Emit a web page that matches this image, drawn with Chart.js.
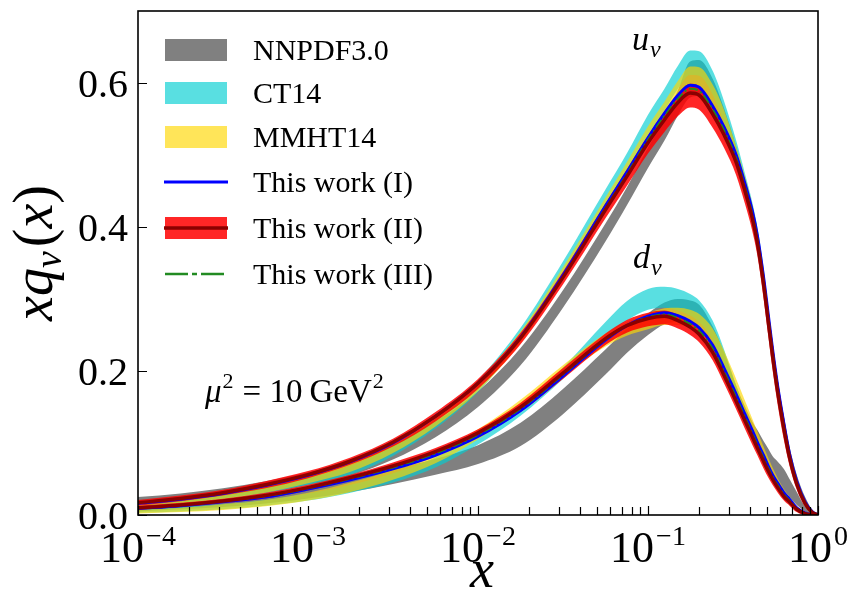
<!DOCTYPE html>
<html><head><meta charset="utf-8">
<script src="https://cdn.jsdelivr.net/npm/chart.js@4/dist/chart.umd.min.js"></script>
<style>html,body{margin:0;padding:0;background:#fff;overflow:hidden}#wrap{width:848px;height:611px}</style>
</head><body><div id="wrap"><canvas id="c" width="848" height="611"></canvas></div>
<script>
// ---- data (x grid shared by all curves) ----
const X = [1e-4, 1.78e-4, 3.16e-4, 5.62e-4, 1e-3, 1.78e-3, 3.16e-3, 5.62e-3, 1e-2, 1.78e-2, 3.16e-2, 5.62e-2, 0.075, 0.1, 0.125, 0.15, 0.177, 0.2, 0.24, 0.28, 0.33, 0.37, 0.41, 0.44, 0.48, 0.51, 0.54, 0.58, 0.63, 0.68, 0.75, 0.84, 0.92, 1.0];

// u_v
const UV_NNPDF_HI = [0.025,0.030,0.037,0.047,0.059,0.074,0.097,0.130,0.172,0.232,0.312,0.405,0.455,0.510,0.550,0.590,0.630,0.632,0.606,0.565,0.512,0.470,0.430,0.395,0.336,0.286,0.239,0.187,0.137,0.095,0.056,0.025,0.008,0];
const UV_NNPDF_LO = [0.013,0.017,0.023,0.031,0.042,0.055,0.077,0.108,0.150,0.208,0.288,0.380,0.430,0.482,0.520,0.555,0.580,0.582,0.560,0.528,0.482,0.444,0.405,0.371,0.313,0.263,0.217,0.166,0.118,0.078,0.041,0.014,0.003,0];
const UV_CT14_HI  = [0.016,0.021,0.028,0.038,0.051,0.068,0.096,0.134,0.187,0.260,0.352,0.452,0.502,0.556,0.592,0.624,0.645,0.644,0.617,0.575,0.520,0.476,0.435,0.400,0.341,0.290,0.242,0.188,0.136,0.092,0.051,0.021,0.006,0];
const UV_CT14_LO  = [0.010,0.014,0.020,0.029,0.041,0.056,0.082,0.120,0.171,0.242,0.332,0.428,0.476,0.528,0.562,0.592,0.611,0.610,0.584,0.545,0.494,0.454,0.415,0.380,0.321,0.271,0.224,0.172,0.122,0.082,0.044,0.016,0.004,0];
const UV_MMHT_HI  = [0.017,0.023,0.030,0.041,0.054,0.072,0.099,0.137,0.187,0.255,0.344,0.441,0.490,0.540,0.574,0.603,0.623,0.622,0.598,0.563,0.512,0.472,0.432,0.397,0.338,0.288,0.240,0.186,0.134,0.091,0.050,0.020,0.005,0];
const UV_MMHT_LO  = [0.011,0.016,0.022,0.031,0.044,0.060,0.086,0.123,0.172,0.239,0.326,0.421,0.468,0.516,0.549,0.576,0.595,0.594,0.571,0.538,0.490,0.451,0.412,0.377,0.318,0.269,0.222,0.170,0.120,0.080,0.043,0.015,0.003,0];
const UV_I        = [0.016,0.022,0.030,0.041,0.055,0.074,0.100,0.137,0.183,0.247,0.333,0.429,0.476,0.524,0.558,0.583,0.597,0.594,0.568,0.539,0.500,0.462,0.423,0.388,0.328,0.278,0.231,0.178,0.127,0.085,0.047,0.018,0.005,0];
const UV_II       = [0.017,0.023,0.031,0.042,0.056,0.075,0.101,0.137,0.183,0.246,0.330,0.424,0.470,0.517,0.549,0.573,0.586,0.583,0.557,0.528,0.490,0.452,0.413,0.378,0.318,0.268,0.222,0.170,0.120,0.080,0.043,0.016,0.004,0];
const UV_II_HI    = [0.021,0.027,0.035,0.047,0.061,0.080,0.106,0.143,0.189,0.253,0.338,0.433,0.480,0.527,0.560,0.585,0.599,0.596,0.570,0.541,0.504,0.467,0.429,0.396,0.338,0.288,0.242,0.188,0.136,0.092,0.051,0.021,0.006,0];
const UV_II_LO    = [0.013,0.019,0.027,0.037,0.051,0.070,0.095,0.130,0.175,0.237,0.320,0.412,0.457,0.502,0.532,0.554,0.566,0.563,0.538,0.510,0.472,0.434,0.395,0.360,0.298,0.248,0.202,0.152,0.104,0.068,0.035,0.011,0.002,0];
const UV_III      = [0.017,0.023,0.031,0.042,0.056,0.075,0.101,0.137,0.183,0.246,0.331,0.426,0.473,0.521,0.554,0.578,0.592,0.589,0.563,0.534,0.495,0.457,0.418,0.383,0.323,0.273,0.227,0.174,0.123,0.082,0.045,0.017,0.004,0];

// d_v
const DV_NNPDF_HI = [0.012,0.016,0.021,0.028,0.037,0.049,0.063,0.078,0.097,0.128,0.175,0.230,0.258,0.280,0.295,0.300,0.298,0.292,0.262,0.226,0.180,0.152,0.130,0.118,0.102,0.092,0.082,0.074,0.064,0.050,0.032,0.012,0.004,0];
const DV_NNPDF_LO = [0.005,0.008,0.011,0.016,0.023,0.032,0.043,0.056,0.071,0.096,0.140,0.195,0.225,0.250,0.265,0.268,0.265,0.258,0.238,0.207,0.168,0.140,0.116,0.099,0.080,0.067,0.056,0.045,0.034,0.025,0.014,0.005,0.001,0];
const DV_CT14_HI  = [0.009,0.011,0.015,0.021,0.030,0.042,0.058,0.080,0.112,0.152,0.205,0.268,0.297,0.314,0.317,0.314,0.307,0.298,0.270,0.230,0.180,0.148,0.121,0.104,0.084,0.070,0.058,0.045,0.032,0.022,0.011,0.004,0.001,0];
const DV_CT14_LO  = [0.003,0.005,0.008,0.013,0.020,0.031,0.045,0.066,0.098,0.138,0.189,0.246,0.270,0.285,0.288,0.284,0.277,0.268,0.243,0.207,0.163,0.134,0.109,0.093,0.074,0.061,0.050,0.038,0.026,0.017,0.007,0.002,0.000,0];
const DV_MMHT_HI  = [0.007,0.010,0.015,0.021,0.031,0.045,0.063,0.086,0.119,0.160,0.208,0.252,0.268,0.280,0.287,0.288,0.285,0.279,0.259,0.228,0.189,0.160,0.134,0.116,0.094,0.079,0.066,0.051,0.036,0.025,0.012,0.004,0.001,0];
const DV_MMHT_LO  = [0.002,0.004,0.007,0.012,0.020,0.032,0.049,0.072,0.105,0.145,0.192,0.234,0.249,0.258,0.264,0.264,0.261,0.255,0.235,0.206,0.169,0.142,0.118,0.101,0.081,0.067,0.055,0.042,0.029,0.019,0.008,0.002,0.000,0];
const DV_I        = [0.009,0.013,0.0185,0.025,0.036,0.049,0.064,0.083,0.109,0.145,0.193,0.243,0.263,0.276,0.281,0.277,0.269,0.260,0.236,0.204,0.168,0.141,0.118,0.101,0.082,0.068,0.056,0.044,0.031,0.022,0.010,0.003,0.0005,0];
const DV_II       = [0.010,0.014,0.0195,0.027,0.038,0.052,0.068,0.088,0.114,0.150,0.197,0.245,0.263,0.273,0.276,0.270,0.261,0.251,0.226,0.194,0.158,0.132,0.109,0.093,0.074,0.061,0.050,0.038,0.026,0.018,0.008,0.002,0.0005,0];
const DV_II_HI    = [0.013,0.017,0.0225,0.031,0.042,0.056,0.073,0.093,0.119,0.156,0.204,0.252,0.271,0.281,0.284,0.278,0.269,0.259,0.235,0.203,0.167,0.141,0.118,0.101,0.082,0.068,0.057,0.044,0.031,0.022,0.011,0.004,0.0015,0];
const DV_II_LO    = [0.007,0.011,0.0165,0.023,0.034,0.048,0.063,0.083,0.108,0.143,0.189,0.236,0.253,0.262,0.265,0.259,0.250,0.240,0.215,0.183,0.147,0.121,0.098,0.083,0.064,0.052,0.042,0.031,0.020,0.013,0.004,0.000,0.000,0];
const DV_III      = [0.0095,0.0135,0.019,0.026,0.037,0.0505,0.066,0.0855,0.1115,0.1475,0.195,0.244,0.263,0.2745,0.2785,0.2735,0.265,0.2555,0.231,0.199,0.163,0.1365,0.1135,0.097,0.078,0.0645,0.053,0.041,0.0285,0.020,0.009,0.0025,0.0005,0];

// ticks and labels
const X_MAJOR = [1e-4, 1e-3, 1e-2, 1e-1, 1];
const X_EXP = ['\u22124', '\u22123', '\u22122', '\u22121', '0'];
const Y_TICKS = [0, 0.2, 0.4, 0.6];
const Y_LABELS = ['0.0', '0.2', '0.4', '0.6'];
const LEGEND_LABELS = ['NNPDF3.0', 'CT14', 'MMHT14', 'This work (I)', 'This work (II)', 'This work (III)'];

// ---- styles ----
const C_GRAY = 'rgb(128,128,128)';
const C_CYAN = 'rgba(0,206,209,0.65)';
const C_GOLD = 'rgba(255,215,0,0.65)';
const C_RED = 'rgba(255,0,0,0.85)';
const C_BLUE = 'rgb(0,0,255)';
const C_DRED = 'rgb(139,0,0)';
const C_GREEN = 'rgb(34,139,34)';
const FONT = '"Liberation Serif", "DejaVu Serif", serif';

const pts = arr => X.map((x, i) => ({x: x, y: arr[i]}));
const datasets = [];
function band(hi, lo, color, order) {
  datasets.push({data: pts(hi), fill: '+1', backgroundColor: color, borderColor: 'rgba(0,0,0,0)', borderWidth: 0, pointRadius: 0, order: order, cubicInterpolationMode: 'monotone'});
  datasets.push({data: pts(lo), fill: false, borderColor: 'rgba(0,0,0,0)', borderWidth: 0, pointRadius: 0, order: order, cubicInterpolationMode: 'monotone'});
}
function line(arr, color, width, order, dash) {
  datasets.push({data: pts(arr), fill: false, borderColor: color, borderWidth: width, pointRadius: 0, order: order, borderDash: dash || [], cubicInterpolationMode: 'monotone'});
}
band(UV_NNPDF_HI, UV_NNPDF_LO, C_GRAY, 20);
band(DV_NNPDF_HI, DV_NNPDF_LO, C_GRAY, 20);
band(UV_CT14_HI, UV_CT14_LO, C_CYAN, 18);
band(DV_CT14_HI, DV_CT14_LO, C_CYAN, 18);
band(UV_MMHT_HI, UV_MMHT_LO, C_GOLD, 16);
band(DV_MMHT_HI, DV_MMHT_LO, C_GOLD, 16);
band(UV_II_HI, UV_II_LO, C_RED, 14);
band(DV_II_HI, DV_II_LO, C_RED, 14);
line(UV_I, C_BLUE, 3, 12);
line(DV_I, C_BLUE, 3, 12);
line(UV_III, C_GREEN, 2, 11, [9, 3, 2, 3]);
line(DV_III, C_GREEN, 2, 11, [9, 3, 2, 3]);
line(UV_II, C_DRED, 3.5, 10);
line(DV_II, C_DRED, 3.5, 10);

function piece(ctx, s, x, y, size, italic) {
  ctx.font = (italic ? 'italic ' : '') + size + 'px ' + FONT;
  ctx.fillText(s, x, y);
  return ctx.measureText(s).width;
}
function widthOf(ctx, s, size, italic) {
  ctx.font = (italic ? 'italic ' : '') + size + 'px ' + FONT;
  return ctx.measureText(s).width;
}

const deco = {
  id: 'deco',
  afterDraw(chart) {
    const ctx = chart.ctx, a = chart.chartArea, xs = chart.scales.x, ys = chart.scales.y;
    ctx.save();
    ctx.fillStyle = '#000';
    ctx.strokeStyle = '#000';
    // ticks
    ctx.lineWidth = 1.2;
    ctx.beginPath();
    for (let d = -4; d <= 0; d++) {
      for (let k = 1; k <= 9; k++) {
        const v = k * Math.pow(10, d);
        if (v > 1.0000001) break;
        const px = Math.round(xs.getPixelForValue(v)) + 0.5;
        const len = (k === 1) ? 9 : 8;
        ctx.moveTo(px, a.bottom); ctx.lineTo(px, a.bottom - len);
      }
    }
    Y_TICKS.forEach(v => {
      const py = Math.round(ys.getPixelForValue(v)) + 0.5;
      ctx.moveTo(a.left, py); ctx.lineTo(a.left + 9, py);
    });
    ctx.stroke();
    // box
    ctx.lineWidth = 1.6;
    ctx.strokeRect(a.left, a.top, a.right - a.left, a.bottom - a.top);
    // y tick labels
    ctx.textAlign = 'right';
    ctx.textBaseline = 'alphabetic';
    ctx.font = '40px ' + FONT;
    Y_TICKS.forEach((v, i) => {
      ctx.fillText(Y_LABELS[i], 128, ys.getPixelForValue(v) + 14);
    });
    // x tick labels 10^n
    ctx.textAlign = 'left';
    X_MAJOR.forEach((v, i) => {
      const wb = widthOf(ctx, '10', 44, false);
      const we = widthOf(ctx, X_EXP[i], 28, false);
      const cx = xs.getPixelForValue(v);
      const x0 = cx - (wb + we + 2) / 2;
      piece(ctx, '10', x0, 562, 44, false);
      piece(ctx, X_EXP[i], x0 + wb + 2, 545, 28, false);
    });
    // x axis title
    ctx.textAlign = 'center';
    piece(ctx, 'x', 482, 587, 54, true);
    // y axis title (rotated)
    ctx.save();
    ctx.translate(52, 253);
    ctx.rotate(-Math.PI / 2);
    ctx.textAlign = 'left';
    const parts = [['x', 56, true, 0], ['q', 56, true, 0], ['v', 38, true, 9], ['(', 56, false, 0], ['x', 56, true, 0], [')', 56, false, 0]];
    let tw = 0;
    parts.forEach(p => { tw += widthOf(ctx, p[0], p[1], p[2]) + (p[0] === 'v' ? 4 : 0); });
    let cx = -tw / 2;
    parts.forEach(p => { cx += piece(ctx, p[0], cx, p[3], p[1], p[2]) + (p[0] === 'v' ? 4 : 0); });
    ctx.restore();
    // annotations
    ctx.textAlign = 'left';
    let w = piece(ctx, 'u', 632, 50, 34, true);
    piece(ctx, 'v', 632 + w + 1, 57, 24, true);
    w = piece(ctx, 'd', 633, 268, 34, true);
    piece(ctx, 'v', 633 + w + 1, 275, 24, true);
    let mx = 205;
    mx += piece(ctx, '\u03bc', mx, 402, 33, true) + 1;
    mx += piece(ctx, '2', mx, 388, 22, false) + 3;
    mx += piece(ctx, '= 10', mx + 6, 402, 33, false) + 6;
    mx += 7;
    mx += piece(ctx, 'GeV', mx, 402, 33, false) + 1;
    piece(ctx, '2', mx, 388, 22, false);
    // legend
    const rows = [50, 93, 137, 182, 228, 274];
    const lx0 = 165, lx1 = 227;
    ctx.fillStyle = C_GRAY; ctx.fillRect(lx0, rows[0] - 11, lx1 - lx0, 22);
    ctx.fillStyle = C_CYAN; ctx.fillRect(lx0, rows[1] - 11, lx1 - lx0, 22);
    ctx.fillStyle = C_GOLD; ctx.fillRect(lx0, rows[2] - 11, lx1 - lx0, 22);
    ctx.strokeStyle = C_BLUE; ctx.lineWidth = 3;
    ctx.beginPath(); ctx.moveTo(lx0 - 1, rows[3]); ctx.lineTo(lx1 + 1, rows[3]); ctx.stroke();
    ctx.fillStyle = C_RED; ctx.fillRect(lx0, rows[4] - 11, lx1 - lx0, 22);
    ctx.strokeStyle = C_DRED; ctx.lineWidth = 3.5;
    ctx.beginPath(); ctx.moveTo(lx0 - 1, rows[4]); ctx.lineTo(lx1 + 1, rows[4]); ctx.stroke();
    ctx.strokeStyle = C_GREEN; ctx.lineWidth = 2.5;
    ctx.setLineDash([23, 4, 5, 4]);
    ctx.beginPath(); ctx.moveTo(lx0, rows[5]); ctx.lineTo(lx1, rows[5]); ctx.stroke();
    ctx.setLineDash([]);
    ctx.fillStyle = '#000';
    LEGEND_LABELS.forEach((t, i) => piece(ctx, t, 253, rows[i] + 10, 30, false));
    ctx.restore();
  }
};

new Chart(document.getElementById('c'), {
  type: 'line',
  data: {datasets: datasets},
  options: {
    responsive: false,
    devicePixelRatio: 1,
    animation: false,
    events: [],
    layout: {padding: {left: 138, right: 30, top: 11, bottom: 96}},
    scales: {
      x: {type: 'logarithmic', min: 1e-4, max: 1, display: false},
      y: {type: 'linear', min: 0, max: 0.7, display: false}
    },
    plugins: {legend: {display: false}, tooltip: {enabled: false}}
  },
  plugins: [deco]
});
</script>
</body></html>
